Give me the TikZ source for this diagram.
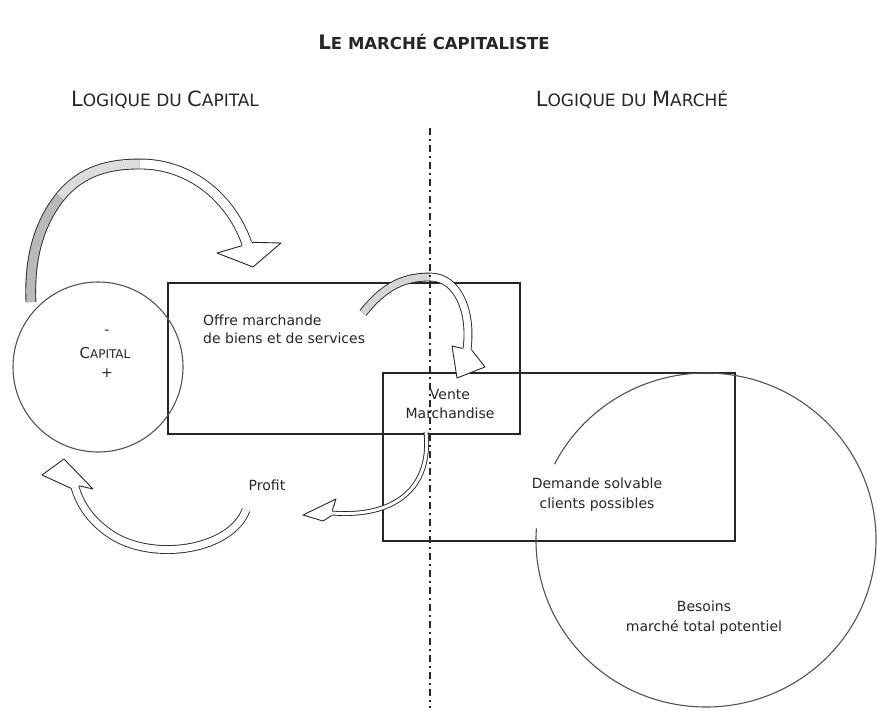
\documentclass[tikz,border=0pt]{standalone}
\usepackage{fontspec}
\setmainfont{DejaVu Sans}
\colorlet{trait}{black!85}
\colorlet{ombre}{gray!55}
\tikzset{
  boite/.style = {draw=trait, line width=1.6pt},
  rond/.style = {draw=trait!80, line width=1.1pt},
  fleche/.style = {draw=trait, line width=0.9pt, double=white, double distance=#1},
  tete/.style = {draw=trait, fill=white, line width=0.9pt, line join=round},
  texte/.style = {font=\fontsize{14}{19}\selectfont, text=trait, inner sep=0pt},
  axe/.style = {draw=trait, line width=2.8pt, dash pattern=on 7pt off 4pt on 2pt off 4pt}
}
\newcommand{\gcap}[1]{{\fontsize{21}{24}\selectfont #1}}
\newcommand{\pcap}[1]{{\fontsize{17}{20}\selectfont #1}}
\newcommand{\tgcap}[1]{{\fontsize{20}{24}\selectfont #1}}
\newcommand{\tpcap}[1]{{\fontsize{16.5}{20}\selectfont #1}}

\begin{document}
\begin{tikzpicture}[x=1pt,y=-1pt]
  \useasboundingbox[fill=white] (0,0) rectangle (878,710);
  % titles
  \node[texte] (titre) at (434,42) {\bfseries\tgcap{L}\tpcap{E MARCHÉ CAPITALISTE}};
  \node[texte] (logcap) at (165,100) {\gcap{L}\pcap{OGIQUE DU }\gcap{C}\pcap{APITAL}};
  \node[texte] (logmar) at (632,100) {\gcap{L}\pcap{OGIQUE DU }\gcap{M}\pcap{ARCHÉ}};
  % boxes and circles
  \draw[boite] (168,283) rectangle (520,434);
  \draw[boite] (383,373) rectangle (735,541);
  \draw[rond] (98,367) circle[radius=85];
  \draw[rond] (706,540) ++(184:170 and 167) arc[start angle=184, end angle=-153, x radius=170, y radius=167];
  % texts
  \node[texte] (moins) at (107,332) {-};
  \node[texte] (capital) at (105,353) {{\fontsize{15}{18}\selectfont C}{\fontsize{12}{18}\selectfont APITAL}};
  \node[texte] (plus) at (107,373) {+};
  \node[texte, anchor=west, align=left, font=\fontsize{14}{18}\selectfont] (offre) at (203,329) {Offre marchande\\de biens et de services};
  \node[texte, align=center] (vente) at (450,404) {Vente\\Marchandise};
  \node[texte] (profit) at (267,485) {Profit};
  \node[texte, align=center, font=\fontsize{14}{20}\selectfont] (demande) at (597,495) {Demande solvable\\clients possibles};
  \node[texte, align=center, font=\fontsize{14}{20}\selectfont] (besoins) at (704,618) {Besoins\\marché total potentiel};
  % arrow capital -> offre
  \draw[fleche=9pt, double=ombre] (31,302) .. controls (29,260) and (38,225) .. (60,197);
  \draw[fleche=9pt, double=ombre!50] (60,197) .. controls (82,170) and (110,164) .. (140,164);
  \draw[fleche=9pt] (140,164) .. controls (192,164) and (232,200) .. (247,244);
  \filldraw[tete] (241.9,245.7) -- (217,253) -- (253,267) -- (281,243) -- (252.1,242.3);
  % arrow offre -> vente
  \draw[fleche=7pt, double=ombre!60] (363,313) .. controls (385,285) and (405,277) .. (430,277);
  \draw[fleche=7pt] (430,277) .. controls (458,277) and (472,312) .. (467,349);
  \filldraw[tete] (462.6,348.4) -- (452,346) -- (457,378) -- (485,367) -- (471.4,349.6);
  % arrow vente -> profit
  \draw[fleche=3pt] (426,432) .. controls (432,488) and (395,518) .. (332,513);
  \filldraw[tete] (332.2,510.6) -- (336,499) -- (303,515) -- (323,521) -- (331.8,515.4);
  % arrow profit -> capital
  \draw[fleche=7pt] (246,510) .. controls (232,548) and (160,562) .. (115,537) .. controls (92,523) and (80,505) .. (75,487);
  \filldraw[tete] (70.8,488.2) -- (42,475) -- (64,459) -- (93,489) -- (79.2,485.8);
  % separation
  \draw[axe] (430,128) -- (430,708);
\end{tikzpicture}
\end{document}
